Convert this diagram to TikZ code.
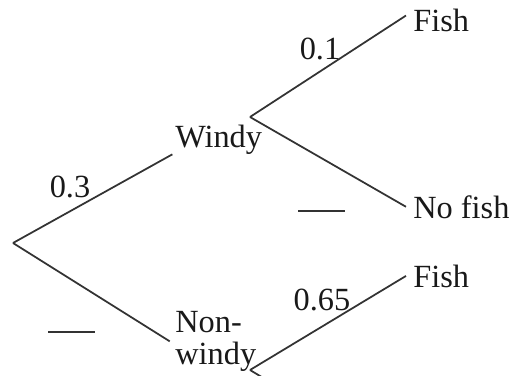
\documentclass[tikz,border=0pt]{standalone}
\usepackage{fontspec}
\setmainfont{Liberation Serif}
\usetikzlibrary{positioning}

\begin{document}
\begin{tikzpicture}[x=0.02cm, y=-0.02cm,
  lbl/.style    ={inner sep=0pt, font=\fontsize{18.4}{18.1}\selectfont, text=black!90},
  outcome/.style={lbl, anchor=base west},
  prob/.style   ={lbl},
  branch/.style ={draw=black!80, line width=1pt},
  blank/.style  ={draw=black!80, line width=1pt}
]
\useasboundingbox (0,0) rectangle (515,376);

%%% ---- first stage: weather ---------------------------------------------
\coordinate (root) at (13,243);
\node[outcome] (windy) at (175,147) {Windy};
\node[lbl, anchor=north west, align=left] (nonwindy) at (175,311) {Non-\\windy};

\draw[branch] (root) -- ([xshift=-1.5pt]windy.south west);
\draw[branch] (root) -- ([xshift=-3pt]nonwindy.west);

\node[prob] (p3)  at (70,187)  {0.3};
\draw[blank] (48,332) -- (95,332);

%%% ---- second stage: after windy --------------------------------------
\coordinate (wb) at (250,117);
\node[outcome] (fishA)   at (413,31)  {Fish};
\node[outcome] (nofishA) at (413,218) {No fish};

\draw[branch] (wb) -- ([xshift=-4pt, yshift=2.5pt]fishA.west);
\draw[branch] (wb) -- ([xshift=-4pt]nofishA.west);

\node[prob] (p1) at (320,49) {0.1};
\draw[blank] (298,211) -- (345,211);

%%% ---- second stage: after non-windy (cut off below) ------------------
\coordinate (nb)   at (250,370);
\coordinate (nout) at (275,385);
\node[outcome] (fishB) at (413,287) {Fish};

\draw[branch] (nb) -- ([xshift=-4pt]fishB.west);
\draw[branch] (nb) -- (nout);

\node[prob] (p65) at (322,300) {0.65};

\end{tikzpicture}
\end{document}
